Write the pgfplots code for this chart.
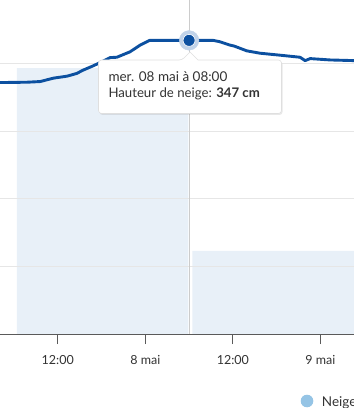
\documentclass[border=0pt]{standalone}
\usepackage{fontspec}
\setmainfont{Lato}
\usepackage{pgfplots}
\pgfplotsset{compat=1.18}
\usetikzlibrary{shadows}

\definecolor{lineblue}{RGB}{12,80,160}
\definecolor{barfill}{RGB}{140,180,220}
\definecolor{gridc}{RGB}{230,230,230}
\definecolor{axisc}{RGB}{90,90,90}
\definecolor{txt}{RGB}{51,51,51}
\definecolor{legc}{RGB}{149,196,229}
\definecolor{crossc}{RGB}{204,204,204}
\definecolor{haloc}{RGB}{193,211,233}

\begin{document}
\begin{tikzpicture}
\useasboundingbox (0pt,-74pt) rectangle (354pt,334pt);
\pgfplotsset{common/.style={at={(0pt,0pt)}, anchor=south west, scale only axis,
  width=354pt, height=334pt, xmin=-19.91, xmax=28.60}}
% fresh snow columns
\begin{axis}[common, ymin=0, ymax=40.2, hide axis]
\addplot[ybar, bar width=23.5, bar shift=0pt, fill=barfill, fill opacity=0.2, draw=none]
  coordinates {(-5.85,32) (18.2,10)};
\end{axis}
% snow depth
\begin{axis}[common, ymin=260, ymax=358.96,
  axis x line*=bottom, axis y line*=left,
  y axis line style={draw=none},
  x axis line style={draw=axisc, line width=1pt, -},
  xtick={-12,0,12,24}, xticklabels={12:00,8 mai,12:00,9 mai},
  xtick align=outside, major tick length=10pt,
  x tick style={draw=axisc, line width=0.9pt},
  ytick={260,280,300,320,340}, yticklabels={}, y tick style={draw=none},
  ymajorgrids, y grid style={draw=gridc, line width=1pt},
  xticklabel style={font=\fontsize{12.5}{14}\selectfont, text=txt, anchor=base, yshift=-20pt}]
\addplot[draw=crossc, line width=1pt] coordinates {(6,260) (6,358.96)};
\addplot[lineblue, line width=2.9pt, line join=round] coordinates {
(-20,334.5) (-16.2,334.6) (-14.4,334.8) (-13.5,335.3) (-12.6,335.8) (-10.7,336.4)
(-9.4,337.2) (-8.5,338.2) (-7.2,339.4) (-6.2,340.4) (-4.8,341.9) (-3.9,342.0)
(-2.1,343.6) (-0.7,345.6) (0.6,347.0) (6,347.0) (9.3,347.0) (10.2,346.6)
(11.6,345.6) (12.2,345.3) (13.9,343.9) (15.7,343.2) (18.5,342.6) (21.2,342.0)
(21.9,341.0) (22.6,341.6) (25.3,341.2) (28.6,341.0)};
\addplot[only marks, mark=*, color=haloc, mark size=9.8pt,
  mark options={solid, fill=haloc, draw=none}]
  coordinates {(6,347)};
\addplot[only marks, mark=*, color=lineblue, mark size=6pt,
  mark options={solid, fill=lineblue, draw=white, line width=0.6pt}]
  coordinates {(6,347)};
\end{axis}
% tooltip and legend (pixel coordinates, y downward)
\begin{scope}[x=1pt, y=-1pt, shift={(0pt,334pt)}]
\draw[draw=gray!25, fill=white, line width=0.6pt,
  drop shadow={shadow xshift=1pt, shadow yshift=-1.5pt, opacity=0.18}]
  [rounded corners=3pt] (98.5,86) -- (98.5,60) -- (182,60)
  [sharp corners] -- (190,52) -- (198,60)
  [rounded corners=3pt] -- (281.5,60) -- (281.5,113.5) -- (98.5,113.5) -- (98.5,86);
\node[anchor=base west, inner sep=0pt, text=txt, font=\fontsize{13.5}{15}\selectfont]
  at (108.3,81.7) {mer. 08 mai à 08:00};
\node[anchor=base west, inner sep=0pt, text=txt, font=\fontsize{13.2}{15}\selectfont]
  at (108.3,97.7) {Hauteur de neige: \textbf{347 cm}};
\fill[legc] (307,401) circle (6.3pt);
\node[anchor=base west, inner sep=0pt, text=txt, font=\fontsize{13.5}{15}\selectfont]
  at (321.7,406.5) {Neige fraîche};
\end{scope}
\end{tikzpicture}
\end{document}
